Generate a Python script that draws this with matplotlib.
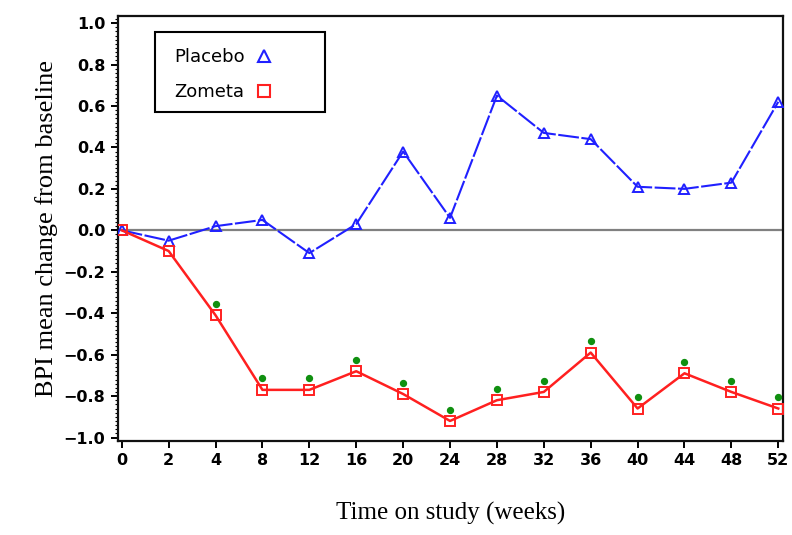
import matplotlib.pyplot as plt
from matplotlib.ticker import MultipleLocator
from matplotlib.lines import Line2D
from matplotlib.patches import Rectangle

weeks = ["0", "2", "4", "8", "12", "16", "20", "24", "28", "32", "36", "40", "44", "48", "52"]
placebo = [0.00, -0.05, 0.02, 0.05, -0.11, 0.03, 0.38, 0.06, 0.65, 0.47, 0.44, 0.21, 0.20, 0.23, 0.62]
zometa = [0.00, -0.10, -0.41, -0.77, -0.77, -0.68, -0.79, -0.92, -0.82, -0.78, -0.59, -0.86, -0.69, -0.78, -0.86]
# significance flags (green asterisks above zometa points)
signif = [False, False, True, True, True, True, True, True, True, True, True, True, True, True, True]

x = list(range(len(weeks)))

fig = plt.figure(figsize=(7.92, 5.35), dpi=100)
ax = fig.add_axes([0.149, 0.176, 0.8396, 0.794])

ax.axhline(0, color="#808080", lw=1.6, zorder=1)

ax.plot(x, placebo, color="#2020ff", lw=1.5, ls=(0, (10, 1.2)),
        marker="^", ms=7, mfc="none", mec="#2020ff", mew=1.4, zorder=3)
ax.plot(x, zometa, color="#ff2020", lw=1.8,
        marker="s", ms=7, mfc="none", mec="#ff2020", mew=1.4, zorder=3)

sx = [xi for xi, s in zip(x, signif) if s]
sy = [zi + 0.055 for zi, s in zip(zometa, signif) if s]
ax.scatter(sx, sy, s=18, color="#109010", zorder=4)

ax.set_xlim(-0.08, 14.1)
ax.set_ylim(-1.016, 1.034)
ax.set_xticks(x)
ax.set_xticklabels(weeks)
ax.yaxis.set_major_locator(MultipleLocator(0.2))
ax.yaxis.set_minor_locator(MultipleLocator(0.02))
ax.set_yticklabels([f"{v:.1f}".replace("-", "\u2212") for v in ax.get_yticks()])

for sp in ax.spines.values():
    sp.set_linewidth(1.6)
    sp.set_color("#111111")

ax.tick_params(axis="both", which="major", direction="out", length=5, width=1.4,
               labelsize=11.5, pad=4)
ax.tick_params(axis="y", which="minor", direction="out", length=2.5, width=0.8)
for lab in ax.get_xticklabels() + ax.get_yticklabels():
    lab.set_fontweight("bold")
    lab.set_family("DejaVu Sans")

ax.set_ylabel("BPI mean change from baseline", family="Liberation Serif",
              fontsize=19, labelpad=4)
ax.set_xlabel("Time on study (weeks)", family="Liberation Serif", fontsize=18,
              labelpad=24)

# legend box drawn separately (wider than the entries)
ax.add_patch(Rectangle((0.0556, 0.774), 0.255, 0.188, transform=ax.transAxes,
                       facecolor="white", edgecolor="black", lw=1.5, zorder=5))
handles = [
    Line2D([], [], ls="none", marker="^", ms=9, mfc="none", mec="#2020ff", mew=1.5),
    Line2D([], [], ls="none", marker="s", ms=9, mfc="none", mec="#ff2020", mew=1.5),
]
leg = ax.legend(handles, ["Placebo", "Zometa"], loc="upper left",
                bbox_to_anchor=(0.084, 0.924), markerfirst=False, frameon=False,
                borderpad=0, handletextpad=0.6, handlelength=1.0,
                labelspacing=0.95, borderaxespad=0,
                prop={"family": "DejaVu Sans", "size": 13})
leg.set_zorder(6)

fig.savefig("out.png", dpi=100, facecolor="white")
